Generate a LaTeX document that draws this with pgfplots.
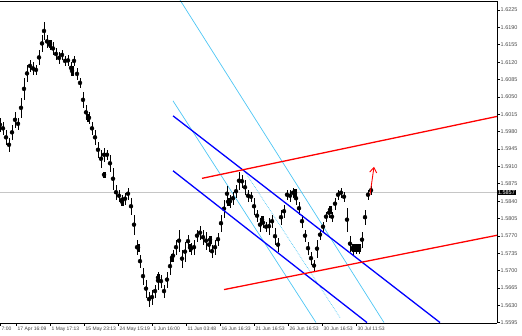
\documentclass[border=0pt]{standalone}
\usepackage{pgfplots}
\usepackage{pgfplotstable}
\pgfplotsset{compat=1.18}
\usetikzlibrary{arrows.meta}
\usepackage{fontspec}
\setmainfont{Liberation Sans}
% bars: x, top pixel row, bottom pixel row (converted to price below)
\pgfplotstableread{
x t b
0 118 132
3 122 135
6 130 145
9 138 152
12 125 140
15 112 128
18 118 130
21 98 118
24 78 100
27 65 82
30 60 72
33 62 75
36 65 75
39 50 65
42 35 52
44 22 40
47 35 48
50 40 50
53 42 55
56 48 60
59 52 64
62 50 60
65 56 66
68 55 66
71 62 74
74 56 66
77 68 80
80 78 88
83 92 108
86 105 120
89 112 124
92 122 135
95 130 145
98 142 158
101 150 168
104 148 162
107 150 160
110 155 172
113 168 190
116 185 200
119 190 202
122 195 205
125 193 205
128 188 200
131 198 215
134 215 235
137 240 255
140 255 268
143 268 285
146 280 298
149 292 307
152 290 305
155 285 298
158 272 290
161 275 288
164 285 298
167 272 288
170 258 275
173 250 262
176 240 255
179 230 252
182 250 268
185 242 262
188 235 248
191 243 255
194 240 255
197 230 242
200 226 240
203 230 245
206 232 250
209 238 252
212 245 258
215 240 255
218 233 246
221 215 232
224 200 218
227 186 202
230 195 208
233 192 205
236 185 198
239 172 190
242 175 188
245 180 195
248 190 202
251 192 202
254 198 215
257 210 222
260 218 232
263 218 228
266 222 232
269 218 235
272 215 228
275 228 245
278 238 252
281 210 225
284 205 218
287 190 200
290 190 202
293 188 198
296 192 205
299 202 215
302 215 228
305 230 242
308 242 255
311 252 265
314 260 272
317 240 258
320 230 240
323 222 232
326 212 222
329 208 218
332 212 222
335 198 210
338 190 200
341 188 198
344 192 202
347 208 232
350 236 252
353 245 255
356 246 254
359 244 254
362 232 248
365 210 225
368 190 200
371 186 195
}\bars
\pgfplotstableread{
x t b
50 40 48
72 66 76
88 114 122
104 172 178
122 198 206
138 244 252
158 274 282
172 254 262
190 244 252
210 236 244
228 198 206
262 216 224
295 189 197
330 206 214
353 244 252
356 244 252
359 244 252
}\bodies
\newcommand{\py}[1]{1.6225-(#1-10)*0.000201149}
\begin{document}
\begin{tikzpicture}
\path[use as bounding box] (0,0) rectangle (522pt,335pt);
\begin{axis}[
  at={(0pt,12pt)}, anchor=south west,
  scale only axis, width=497pt, height=322pt,
  xmin=0, xmax=497, ymin=1.55945, ymax=1.624310,
  axis x line*=bottom, axis y line*=right,
  axis line style={-, black, line width=0.8pt},
  tick align=outside, major tick length=2.5pt,
  tick style={black, line width=0.6pt},
  xtick={0,16,50,84,118,152,186,220,254,288,322,356},
  xticklabels={7:00,17 Apr 16:09,1 May 17:13,15 May 23:13,24 May 15:19,1 Jun 16:00,11 Jun 03:48,16 Jun 16:33,21 Jun 16:53,26 Jun 16:53,30 Jun 16:53,30 Jul 11:53},
  xticklabel style={anchor=north west, inner sep=1pt, xshift=0.5pt, font=\fontsize{5}{6}\selectfont, text=black!75},
  ytick={1.5595,1.5630,1.5665,1.5700,1.5735,1.5770,1.5805,1.5840,1.5875,1.5910,1.5945,1.5980,1.6015,1.6050,1.6085,1.6120,1.6155,1.6190,1.6225},
  yticklabel style={/pgf/number format/.cd, fixed, precision=4, zerofill, /tikz/.cd, font=\fontsize{5.5}{6}\selectfont, text=black!70, inner sep=1pt},
  /pgf/number format/assume math mode=true,
  clip mode=individual,
]
% current price line
\addplot[gray!45, line width=0.8pt] table[row sep=\\, y expr={\py{\thisrow{y}}}] {x y\\ 0 193\\ 497 193\\};
% cyan lines
\addplot[cyan!70, line width=0.7pt] table[row sep=\\, y expr={\py{\thisrow{y}}}] {x y\\ 180 0\\ 384 323\\};
\addplot[cyan!70, line width=0.7pt] table[row sep=\\, y expr={\py{\thisrow{y}}}] {x y\\ 173 101\\ 316 323\\};
\addplot[cyan!70, line width=0.7pt, densely dotted] table[row sep=\\, y expr={\py{\thisrow{y}}}] {x y\\ 245 172\\ 340 318\\};
% bars
\addplot[black, only marks, mark=none, error bars/.cd, y dir=both, y explicit, error mark=none, error bar style={black, line width=0.9pt}]
  table[x=x, y expr={\py{0.5*(\thisrow{t}+\thisrow{b})}}, y error expr={0.5*(\thisrow{b}-\thisrow{t})*0.000201149}] {\bars};
\addplot[black, only marks, mark=none, error bars/.cd, y dir=both, y explicit, error mark=none, error bar style={black, line width=3pt}]
  table[x=x, y expr={\py{0.5*(\thisrow{t}+\thisrow{b})}}, y error expr={0.5*(\thisrow{b}-\thisrow{t})*0.000201149}] {\bodies};
% blue channel
\addplot[blue, line width=1.3pt] table[row sep=\\, y expr={\py{\thisrow{y}}}] {x y\\ 173 116\\ 440 323\\};
\addplot[blue, line width=1.3pt] table[row sep=\\, y expr={\py{\thisrow{y}}}] {x y\\ 173 171\\ 367 323\\};
% red channel
\addplot[red, line width=1.3pt] table[row sep=\\, y expr={\py{\thisrow{y}}}] {x y\\ 202 178.6\\ 497 116.6\\};
\addplot[red, line width=1.3pt] table[row sep=\\, y expr={\py{\thisrow{y}}}] {x y\\ 224 290\\ 497 235.6\\};
% red arrow
\addplot[red, line width=0.9pt, -{Straight Barb[length=5pt,width=7pt]}] table[row sep=\\, y expr={\py{\thisrow{y}}}] {x y\\ 370 195\\ 374 167\\};
% top border
\draw[black, line width=0.8pt] (rel axis cs:0,1) -- (rel axis cs:1,1);
% current price label
\node[anchor=west, fill=black, text=white, inner sep=0.8pt, font=\fontsize{5.5}{6}\selectfont] at (axis cs:497,1.58569) {1.5857};
\end{axis}
\end{tikzpicture}
\end{document}
